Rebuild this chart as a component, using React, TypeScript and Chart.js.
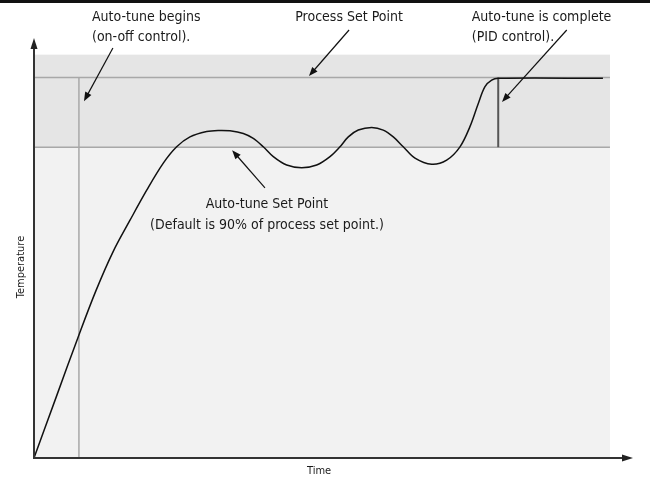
import React, { useEffect, useRef } from "react";
import { Chart, registerables } from "chart.js";
Chart.register(...registerables);

// Curve: time (arbitrary units) vs temperature (% of process set point)
const timeValues = [0, 3.85, 7.69, 10.76, 13.72, 16.67, 19.57, 22.45, 24.77, 27.08, 29.98, 32.0, 34.03, 36.34, 38.07, 39.81, 41.55, 43.87, 46.48, 49.08, 51.39, 53.13, 54.57, 56.3, 58.63, 60.64, 62.38, 64.11, 66.15, 69.05, 71.65, 73.96, 75.69, 77.14, 78.3, 79.46, 80.61, 98.78];
const temperatureValues = [0, 16.0, 31.9, 44.0, 54.2, 62.5, 70.4, 77.5, 81.8, 84.4, 85.8, 86.1, 86.0, 85.3, 84.0, 81.8, 79.2, 77.0, 76.3, 77.0, 79.2, 81.8, 84.4, 86.2, 86.9, 86.2, 84.4, 81.8, 78.8, 77.2, 78.3, 81.8, 87.1, 93.2, 97.6, 99.3, 99.8, 99.8];

const PROCESS_SP = 100;
const AUTOTUNE_SP = 81.7;
const BAND_TOP = 106;
const SHADE_END = 100;
const AUTOTUNE_START = 7.8;
const AUTOTUNE_END = 80.6;
const X_MAX = 104;
const Y_MAX = 110.4;

// Annotation texts
const noteTexts = ["Auto-tune begins", "(on-off control).", "Process Set Point", "Auto-tune is complete", "(PID control).", "Auto-tune Set Point", "(Default is 90% of process set point.)"];
const noteX = [10.07, 10.07, 54.7, 76.0, 76.0, 40.45, 40.45];
const noteY = [115.9, 110.6, 115.9, 115.9, 110.6, 66.75, 61.2];
const noteAlign = ["left", "left", "center", "left", "left", "center", "center"];

// Annotation arrows (from -> tip)
const arrowFromX = [13.7, 54.7, 92.5, 40.1];
const arrowFromY = [107.75, 112.5, 112.5, 71.0];
const arrowToX = [8.68, 47.74, 81.25, 34.4];
const arrowToY = [93.8, 100.4, 93.6, 80.9];

const xTitle = "Time";
const yTitle = "Temperature";

const FONT = "'Liberation Sans Narrow', 'Arial Narrow', 'DejaVu Sans Condensed', sans-serif";

function arrowHead(ctx: CanvasRenderingContext2D, fx: number, fy: number, tx: number, ty: number, len: number, half: number) {
  const a = Math.atan2(ty - fy, tx - fx);
  ctx.beginPath();
  ctx.moveTo(tx, ty);
  ctx.lineTo(tx - len * Math.cos(a) + half * Math.sin(a), ty - len * Math.sin(a) - half * Math.cos(a));
  ctx.lineTo(tx - len * Math.cos(a) - half * Math.sin(a), ty - len * Math.sin(a) + half * Math.cos(a));
  ctx.closePath();
  ctx.fill();
}

const diagramPlugin = {
  id: "diagram",
  beforeDatasetsDraw(chart: any) {
    const { ctx, scales } = chart;
    const X = (v: number) => scales.x.getPixelForValue(v);
    const Y = (v: number) => scales.y.getPixelForValue(v);
    const line = (x1: number, y1: number, x2: number, y2: number) => {
      ctx.beginPath(); ctx.moveTo(x1, y1); ctx.lineTo(x2, y2); ctx.stroke();
    };
    ctx.save();
    // top rule
    ctx.fillStyle = "#111";
    ctx.fillRect(0, 0, chart.width - 3, 3);
    ctx.fillStyle = "#f2f2f2";
    ctx.fillRect(X(0), Y(BAND_TOP), X(SHADE_END) - X(0), Y(0) - Y(BAND_TOP));
    ctx.fillStyle = "#e5e5e5";
    ctx.fillRect(X(0), Y(BAND_TOP), X(SHADE_END) - X(0), Y(AUTOTUNE_SP) - Y(BAND_TOP));
    ctx.strokeStyle = "#a8a8a8";
    ctx.lineWidth = 1.5;
    line(X(0), Y(PROCESS_SP), X(SHADE_END), Y(PROCESS_SP));
    line(X(0), Y(AUTOTUNE_SP), X(SHADE_END), Y(AUTOTUNE_SP));
    line(X(AUTOTUNE_START), Y(0), X(AUTOTUNE_START), Y(PROCESS_SP));
    ctx.strokeStyle = "#555";
    ctx.lineWidth = 2;
    line(X(AUTOTUNE_END), Y(AUTOTUNE_SP), X(AUTOTUNE_END), Y(PROCESS_SP));
    ctx.restore();
  },
  afterDatasetsDraw(chart: any) {
    const { ctx, scales } = chart;
    const X = (v: number) => scales.x.getPixelForValue(v);
    const Y = (v: number) => scales.y.getPixelForValue(v);
    ctx.save();
    // axes
    ctx.strokeStyle = "#333";
    ctx.fillStyle = "#222";
    ctx.lineWidth = 2;
    ctx.beginPath();
    ctx.moveTo(X(0), Y(Y_MAX) + 6);
    ctx.lineTo(X(0), Y(0));
    ctx.lineTo(X(X_MAX) - 6, Y(0));
    ctx.stroke();
    arrowHead(ctx, X(0), Y(0), X(0), Y(Y_MAX), 11, 3.5);
    arrowHead(ctx, X(0), Y(0), X(X_MAX), Y(0), 11, 3.5);
    // annotation arrows
    ctx.strokeStyle = "#111";
    ctx.fillStyle = "#111";
    ctx.lineWidth = 1.2;
    for (let i = 0; i < arrowFromX.length; i++) {
      const fx = X(arrowFromX[i]), fy = Y(arrowFromY[i]);
      const tx = X(arrowToX[i]), ty = Y(arrowToY[i]);
      const a = Math.atan2(ty - fy, tx - fx);
      ctx.beginPath();
      ctx.moveTo(fx, fy);
      ctx.lineTo(tx - 6 * Math.cos(a), ty - 6 * Math.sin(a));
      ctx.stroke();
      arrowHead(ctx, fx, fy, tx, ty, 9, 3.5);
    }
    // texts
    ctx.fillStyle = "#1a1a1a";
    ctx.textBaseline = "middle";
    ctx.font = `14px ${FONT}`;
    for (let i = 0; i < noteTexts.length; i++) {
      ctx.textAlign = noteAlign[i] as CanvasTextAlign;
      ctx.fillText(noteTexts[i], X(noteX[i]), Y(noteY[i]));
    }
    ctx.font = `11px ${FONT}`;
    ctx.textAlign = "center";
    ctx.fillText(xTitle, X(49.5), Y(-3.4));
    ctx.save();
    ctx.translate(X(-2.26), Y(50.2));
    ctx.rotate(-Math.PI / 2);
    ctx.fillText(yTitle, 0, 0);
    ctx.restore();
    ctx.restore();
  },
};

export default function App() {
  const ref = useRef<HTMLCanvasElement | null>(null);
  useEffect(() => {
    if (!ref.current) return;
    const chart = new Chart(ref.current, {
      type: "line",
      data: {
        datasets: [
          {
            label: "Temperature",
            data: timeValues.map((t, i) => ({ x: t, y: temperatureValues[i] })),
            borderColor: "#111",
            borderWidth: 1.5,
            pointRadius: 0,
            tension: 0.35,
            fill: false,
          },
        ],
      },
      options: {
        responsive: false,
        animation: false,
        layout: { padding: { left: 34, right: 20, top: 38, bottom: 25 } },
        plugins: { legend: { display: false }, tooltip: { enabled: false } },
        scales: {
          x: { type: "linear", min: 0, max: X_MAX, display: false },
          y: { type: "linear", min: 0, max: Y_MAX, display: false },
        },
      },
      plugins: [diagramPlugin],
    });
    return () => chart.destroy();
  }, []);
  return (
    <div style={{ position: "fixed", left: 0, top: 0, width: 653, height: 483, background: "#fff" }}>
      <canvas ref={ref} width={653} height={483} style={{ display: "block" }} />
    </div>
  );
}
